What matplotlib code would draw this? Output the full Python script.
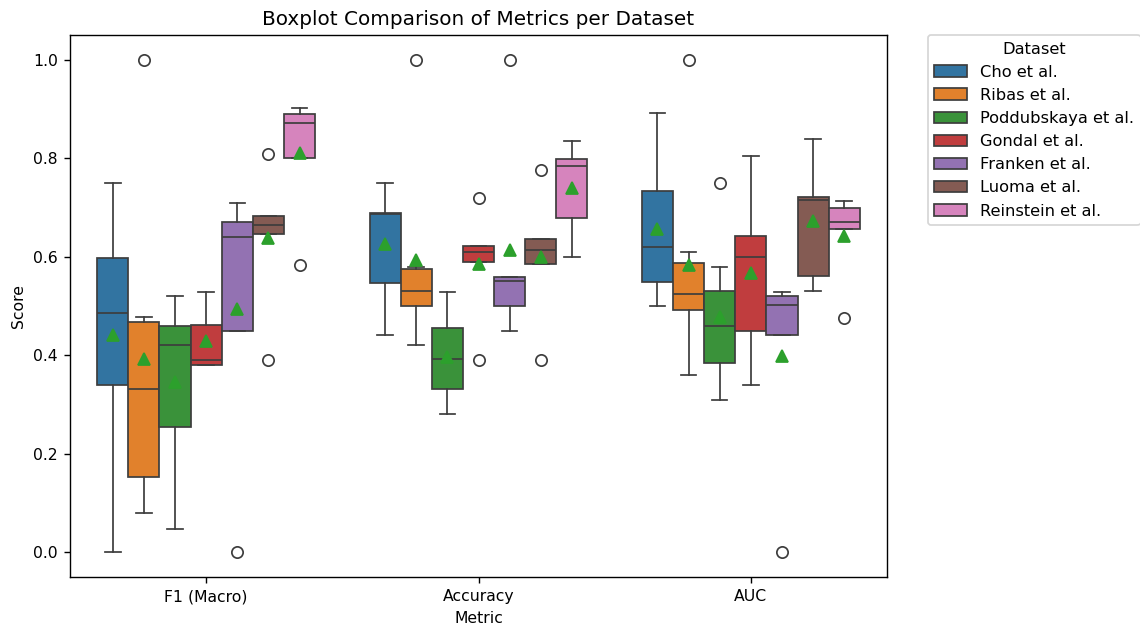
import colorsys
import numpy as np
import matplotlib
matplotlib.use("Agg")
import matplotlib.pyplot as plt
from matplotlib.patches import Patch

metrics = ["F1 (Macro)", "Accuracy", "AUC"]
datasets = ["Cho et al.", "Ribas et al.", "Poddubskaya et al.", "Gondal et al.",
            "Franken et al.", "Luoma et al.", "Reinstein et al."]

# rows: metrics, columns: datasets
whislo = [[0.000, 0.080, 0.048, 0.380, 0.450, 0.647, 0.800],
          [0.441, 0.420, 0.280, 0.590, 0.450, 0.585, 0.600],
          [0.500, 0.360, 0.310, 0.340, 0.441, 0.530, 0.656]]
q1 = [[0.340, 0.152, 0.255, 0.380, 0.450, 0.647, 0.800],
      [0.546, 0.500, 0.332, 0.590, 0.500, 0.585, 0.678],
      [0.549, 0.492, 0.385, 0.450, 0.441, 0.560, 0.656]]
med = [[0.485, 0.331, 0.420, 0.390, 0.640, 0.664, 0.871],
       [0.687, 0.530, 0.392, 0.610, 0.551, 0.614, 0.785],
       [0.620, 0.524, 0.460, 0.600, 0.503, 0.715, 0.670]]
q3 = [[0.597, 0.467, 0.459, 0.462, 0.670, 0.683, 0.890],
      [0.689, 0.576, 0.455, 0.622, 0.559, 0.636, 0.799],
      [0.734, 0.587, 0.530, 0.642, 0.521, 0.722, 0.699]]
whishi = [[0.750, 0.478, 0.520, 0.529, 0.710, 0.683, 0.902],
          [0.750, 0.580, 0.529, 0.622, 0.559, 0.636, 0.834],
          [0.892, 0.610, 0.579, 0.805, 0.529, 0.838, 0.713]]
means = [[0.441, 0.392, 0.345, 0.428, 0.493, 0.637, 0.810],
         [0.626, 0.594, 0.397, 0.586, 0.613, 0.600, 0.740],
         [0.656, 0.583, 0.478, 0.567, 0.399, 0.672, 0.642]]
fliers = [[[], [1.0], [], [], [0.0], [0.808, 0.390], [0.583]],
          [[], [1.0], [], [0.719, 0.390], [1.0], [0.776, 0.390], []],
          [[], [1.0], [0.750], [], [0.0], [], [0.476]]]


def desaturate(c, prop=0.75):
    h, l, s = colorsys.rgb_to_hls(*matplotlib.colors.to_rgb(c))
    return colorsys.hls_to_rgb(h, l, s * prop)


base = plt.get_cmap("tab10").colors[:len(datasets)]
colors = [desaturate(c) for c in base]
lum = min(colorsys.rgb_to_hls(*c)[1] for c in colors) * 0.6
line_color = (lum, lum, lum)

plt.rcParams.update({"font.size": 9})

fig = plt.figure(figsize=(9.12, 5.024), dpi=125)
ax = fig.add_axes([70 / 1140, 51 / 628, 817 / 1140, 542 / 628])

n = len(datasets)
w = 0.8 / n
lw = 1.0
for i, m in enumerate(metrics):
    for j, d in enumerate(datasets):
        pos = i - 0.4 + (j + 0.5) * w
        stats = [dict(med=med[i][j], q1=q1[i][j], q3=q3[i][j],
                      whislo=whislo[i][j], whishi=whishi[i][j],
                      mean=means[i][j], fliers=fliers[i][j])]
        ax.bxp(stats, positions=[pos], widths=w, capwidths=w * 0.5,
               patch_artist=True, showmeans=True, manage_ticks=False,
               boxprops=dict(facecolor=colors[j], edgecolor=line_color, linewidth=lw),
               medianprops=dict(color=line_color, linewidth=lw),
               whiskerprops=dict(color=line_color, linewidth=lw),
               capprops=dict(color=line_color, linewidth=lw),
               flierprops=dict(marker="o", markerfacecolor="none",
                               markeredgecolor=line_color, markersize=6.5,
                               markeredgewidth=lw),
               meanprops=dict(marker="^", markerfacecolor="#2ca02c",
                              markeredgecolor="#2ca02c", markersize=7))

ax.set_xlim(-0.5, len(metrics) - 0.5)
ax.set_ylim(-0.05, 1.05)
ax.set_xticks(range(len(metrics)))
ax.set_xticklabels(metrics)
ax.set_xlabel("Metric")
ax.set_ylabel("Score")
ax.set_title("Boxplot Comparison of Metrics per Dataset", fontsize=11.5)

handles = [Patch(facecolor=colors[j], edgecolor=line_color, linewidth=lw, label=d)
           for j, d in enumerate(datasets)]
ax.legend(handles=handles, title="Dataset", fontsize=9.4, title_fontsize=9.4,
          bbox_to_anchor=(1.05, 1), loc="upper left", borderaxespad=0)

fig.savefig("out.png", dpi=125)
